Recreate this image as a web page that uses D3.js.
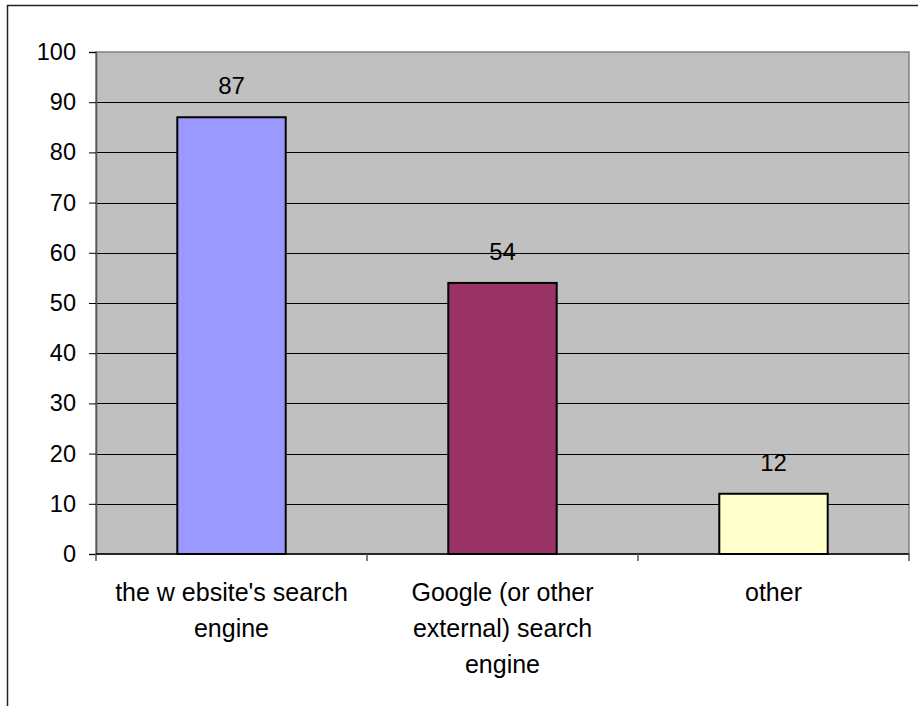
<!DOCTYPE html>
<html>
<head>
<meta charset="utf-8">
<script src="https://cdn.jsdelivr.net/npm/d3@7"></script>
<style>
  html, body { margin: 0; padding: 0; background: #fff; }
  svg { display: block; }
  text { font-family: "Liberation Sans", Arial, sans-serif; fill: #000; }
</style>
</head>
<body>
<svg id="chart" width="918" height="706"></svg>
<script>
// Search method counts
const categories = [
  ["the w ebsite's search", "engine"],
  ["Google (or other", "external) search", "engine"],
  ["other"]
];
const values = [87, 54, 12];
const barColors = ["#9999FF", "#993366", "#FFFFCC"];
const yTicks = [0, 10, 20, 30, 40, 50, 60, 70, 80, 90, 100];

const svg = d3.select("#chart");
const plot = { left: 96, top: 52, right: 909, bottom: 554 };

// Outer chart frame (top and left edges visible)
svg.append("path")
  .attr("d", "M7.5,706 V5.5 H918")
  .attr("fill", "none").attr("stroke", "#222").attr("stroke-width", 1.5);

const x = d3.scaleBand()
  .domain(d3.range(categories.length))
  .range([plot.left, plot.right])
  .paddingInner(0.6).paddingOuter(0.3);

const band = (plot.right - plot.left) / categories.length;

const y = d3.scaleLinear().domain([0, 100]).range([plot.bottom, plot.top]);

// Plot background
svg.append("rect")
  .attr("x", plot.left).attr("y", plot.top)
  .attr("width", plot.right - plot.left).attr("height", plot.bottom - plot.top)
  .attr("fill", "#C0C0C0")
  .attr("stroke", "#808080").attr("stroke-width", 1.5);

// Horizontal gridlines
svg.append("g")
  .selectAll("line")
  .data(yTicks.filter(d => d > 0 && d < 100))
  .join("line")
  .attr("x1", plot.left).attr("x2", plot.right)
  .attr("y1", d => Math.round(y(d)) + 0.5).attr("y2", d => Math.round(y(d)) + 0.5)
  .attr("stroke", "#000").attr("stroke-width", 1);

// Y axis
const yAxis = svg.append("g")
  .attr("transform", `translate(${plot.left},0)`)
  .call(d3.axisLeft(y).tickValues(yTicks).tickSize(7).tickPadding(13));
yAxis.select(".domain").attr("stroke", "#555").attr("stroke-width", 1.5);
yAxis.selectAll(".tick line").attr("stroke", "#000");
yAxis.selectAll(".tick text")
  .style("font-family", "Liberation Sans, Arial, sans-serif")
  .style("font-size", "23.5px").attr("fill", "#000");

// Bottom axis line and category separators
svg.append("line")
  .attr("x1", plot.left).attr("x2", plot.right)
  .attr("y1", plot.bottom).attr("y2", plot.bottom)
  .attr("stroke", "#000").attr("stroke-width", 1.5);
svg.append("g")
  .selectAll("line")
  .data(d3.range(categories.length + 1))
  .join("line")
  .attr("x1", i => plot.left + i * band).attr("x2", i => plot.left + i * band)
  .attr("y1", plot.bottom).attr("y2", plot.bottom + 7)
  .attr("stroke", "#555").attr("stroke-width", 1.5);

// Bars
svg.append("g")
  .selectAll("rect")
  .data(values)
  .join("rect")
  .attr("x", (d, i) => x(i))
  .attr("y", d => y(d))
  .attr("width", x.bandwidth())
  .attr("height", d => plot.bottom - y(d))
  .attr("fill", (d, i) => barColors[i])
  .attr("stroke", "#000").attr("stroke-width", 2);

// Value labels
svg.append("g")
  .selectAll("text")
  .data(values)
  .join("text")
  .attr("x", (d, i) => x(i) + x.bandwidth() / 2)
  .attr("y", d => y(d) - 23)
  .attr("text-anchor", "middle")
  .style("font-size", "24px")
  .text(d => d);

// Category labels
const catG = svg.append("g");
categories.forEach((lines, i) => {
  const t = catG.append("text")
    .attr("x", x(i) + x.bandwidth() / 2)
    .attr("y", 601)
    .attr("text-anchor", "middle")
    .style("font-size", "25px");
  lines.forEach((ln, j) => {
    t.append("tspan")
      .attr("x", x(i) + x.bandwidth() / 2)
      .attr("dy", j === 0 ? 0 : 36)
      .text(ln);
  });
});
</script>
</body>
</html>
